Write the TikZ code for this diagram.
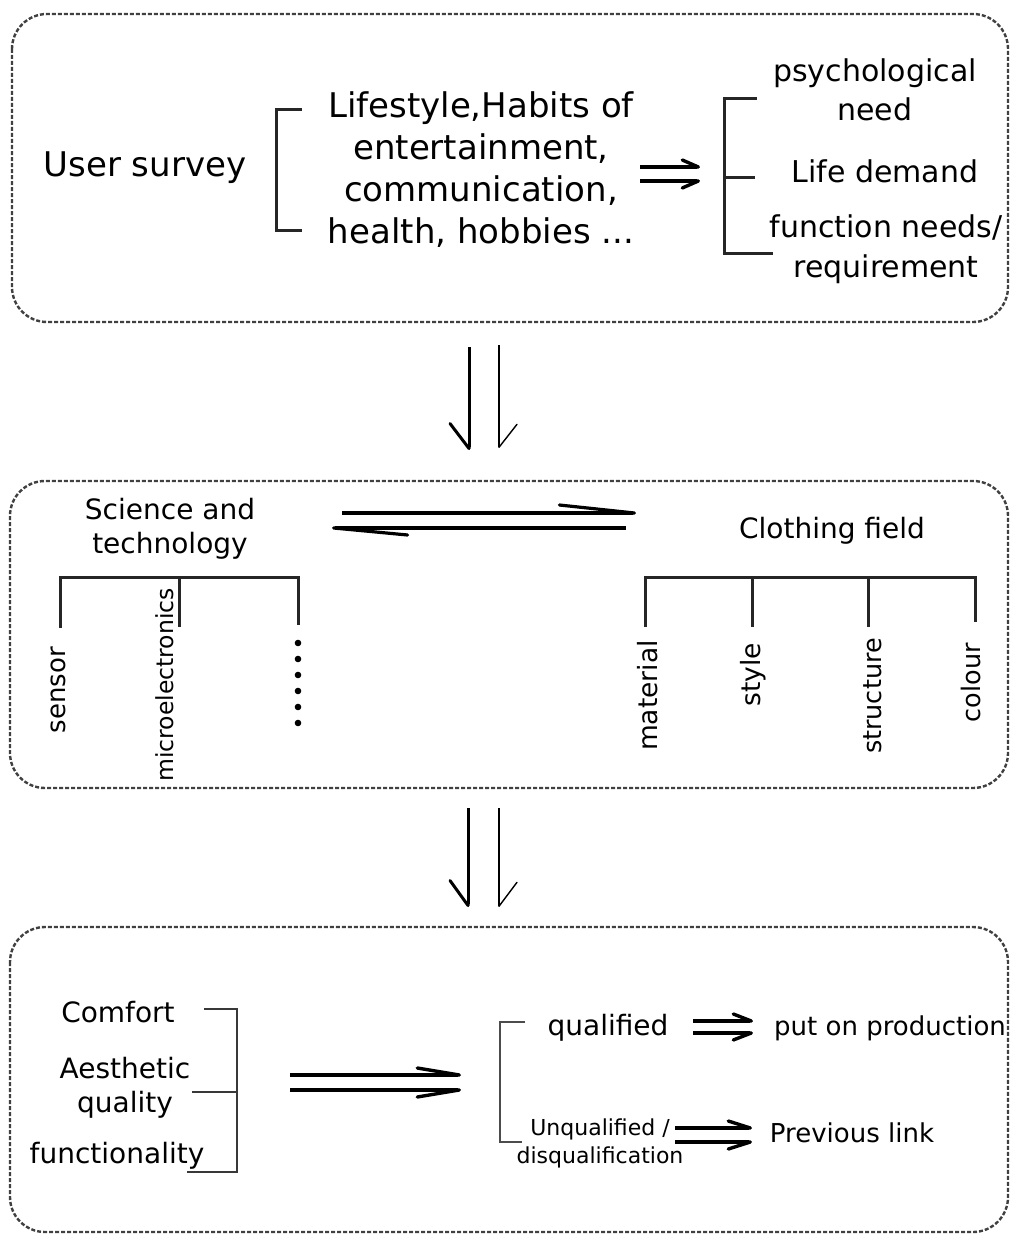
\documentclass[tikz,border=0pt]{standalone}
\usepackage{fontspec}
\setmainfont{DejaVu Sans}
\usetikzlibrary{arrows.meta}

\tikzset{
  box/.style={draw=black!75, line width=2.4pt, dash pattern=on 4pt off 2pt, rounded corners=35pt},
  brace/.style={draw=black!85, line width=3pt},
  lbl/.style={inner sep=0pt, anchor=base, align=center, text=black},
  rot/.style={inner sep=0pt, rotate=90, anchor=base east, text=black},
  harpup/.style={-{Straight Barb[left, round, length=#1, width=14pt]}},
  harpdown/.style={-{Straight Barb[right, round, length=#1, width=14pt]}},
}

\begin{document}
\begin{tikzpicture}[x=1pt, y=-1pt]
                \useasboundingbox (0,0) rectangle (1012,1236);

                % Define the coordinates
                \coordinate (S1) at (640,167);
                \coordinate (E1) at (700,167);
                \coordinate (S2) at (640,181);
                \coordinate (E2) at (700,181);
                \coordinate (D1) at (469,347);
                \coordinate (F1) at (469,450);
                \coordinate (D2) at (499,345);
                \coordinate (F2) at (499,448);
                \coordinate (D3) at (468,808);
                \coordinate (F3) at (468,907);
                \coordinate (D4) at (499,808);
                \coordinate (F4) at (499,907);

                % Draw the three boxes
                \draw[box] (12,14) rectangle (1008,322);
                \draw[box] (10,481) rectangle (1008,788);
                \draw[box] (10,927) rectangle (1008,1232);

                % Draw the user survey part
                \node[lbl, font=\fontsize{34}{42}\selectfont] (survey) at (145,176) {User survey};
                \node[lbl, font=\fontsize{34}{41.7}\selectfont] (habits) at (481,243)
                {Lifestyle,Habits of\\entertainment,\\communication,\\health, hobbies ...};
                \draw[brace] (302,110) -- (276,110) -- (276,230) -- (302,230);
                \draw[line width=3.4pt, harpup=16pt] (S1) -- (E1);
                \draw[line width=3.4pt, harpdown=16pt] (S2) -- (E2);
                \draw[brace] (757,99) -- (724,99) -- (724,253) -- (773,253);
                \draw[brace] (724,177) -- (755,177);
                \node[lbl, font=\fontsize{30}{39}\selectfont] (psych) at (875,121) {psychological\\need};
                \node[lbl, font=\fontsize{30}{39}\selectfont] (life) at (885,182) {Life demand};
                \node[lbl, font=\fontsize{30}{40}\selectfont] (func) at (886,277) {function needs/\\requirement};

                % Draw the arrows between the boxes
                \draw[line width=3pt, -{Straight Barb[right, round, length=25pt, width=38pt]}] (D1) -- (F1);
                \draw[line width=1.4pt, -{Straight Barb[left, round, length=23pt, width=36pt]}] (D2) -- (F2);
                \draw[line width=3pt, -{Straight Barb[right, round, length=25pt, width=36pt]}] (D3) -- (F3);
                \draw[line width=1.4pt, -{Straight Barb[left, round, length=24pt, width=36pt]}] (D4) -- (F4);

                % Draw the science and clothing part
                \node[lbl, font=\fontsize{28}{34}\selectfont] (science) at (170,553) {Science and\\technology};
                \node[lbl, font=\fontsize{28}{34}\selectfont] (clothing) at (832,538) {Clothing field};
                \draw[line width=3.2pt, -{Straight Barb[left, round, length=75pt, width=16pt]}] (342,513) -- (636,513);
                \draw[line width=3.2pt, -{Straight Barb[left, round, length=74pt, width=14pt]}] (626,528) -- (332,528);

                \draw[brace] (60,628) -- (60,577) -- (298,577) -- (298,625);
                \draw[brace] (179,577) -- (179,627);
                \draw[brace] (645,627) -- (645,577) -- (975,577) -- (975,622);
                \draw[brace] (752,577) -- (752,627);
                \draw[brace] (868,577) -- (868,627);

                \node[rot, font=\fontsize{26}{30}\selectfont] (sensor) at (65,647) {sensor};
                \node[rot, font=\fontsize{23.5}{28}\selectfont] (micro) at (173,588) {microelectronics};
                \foreach \i in {0,...,5}
                  \fill (298,{643+16*\i}) circle (3.3pt);
                \node[rot, font=\fontsize{26.5}{30}\selectfont] (material) at (657,640) {material};
                \node[rot, font=\fontsize{26.5}{30}\selectfont] (style) at (760,643) {style};
                \node[rot, font=\fontsize{25.5}{30}\selectfont] (structure) at (881,638) {structure};
                \node[rot, font=\fontsize{25.5}{30}\selectfont] (colour) at (980,643) {colour};

                % Draw the evaluation part
                \node[lbl, font=\fontsize{28}{34}\selectfont] (comfort) at (118,1022) {Comfort};
                \node[lbl, font=\fontsize{28}{34}\selectfont] (aesthetic) at (125,1112) {Aesthetic\\quality};
                \node[lbl, font=\fontsize{28}{34}\selectfont] (function) at (117,1163) {functionality};
                \draw[line width=2.6pt, black!78] (204,1009) -- (237,1009) -- (237,1172) -- (187,1172);
                \draw[line width=2.6pt, black!78] (192,1092) -- (237,1092);

                \draw[line width=3.4pt, harpup=42pt] (290,1075) -- (461,1075);
                \draw[line width=3.4pt, harpdown=42pt] (290,1090) -- (461,1090);

                \draw[line width=2.6pt, black!70] (525,1022) -- (500,1022) -- (500,1142) -- (522,1142);
                \node[lbl, font=\fontsize{28}{34}\selectfont] (qualified) at (608,1035) {qualified};
                \draw[line width=3.4pt, harpup=18pt] (693,1021) -- (753,1021);
                \draw[line width=3.4pt, harpdown=18pt] (693,1033) -- (753,1033);
                \node[lbl, font=\fontsize{26}{30}\selectfont] (production) at (890,1035) {put on production};

                \node[lbl, font=\fontsize{22}{28}\selectfont] (unqualified) at (600,1163) {Unqualified /\\disqualification};
                \draw[line width=3.4pt, harpup=22pt] (675,1128) -- (752,1128);
                \draw[line width=3.4pt, harpdown=22pt] (675,1142) -- (752,1142);
                \node[lbl, font=\fontsize{26}{30}\selectfont] (previous) at (852,1142) {Previous link};
              \end{tikzpicture}
\end{document}
